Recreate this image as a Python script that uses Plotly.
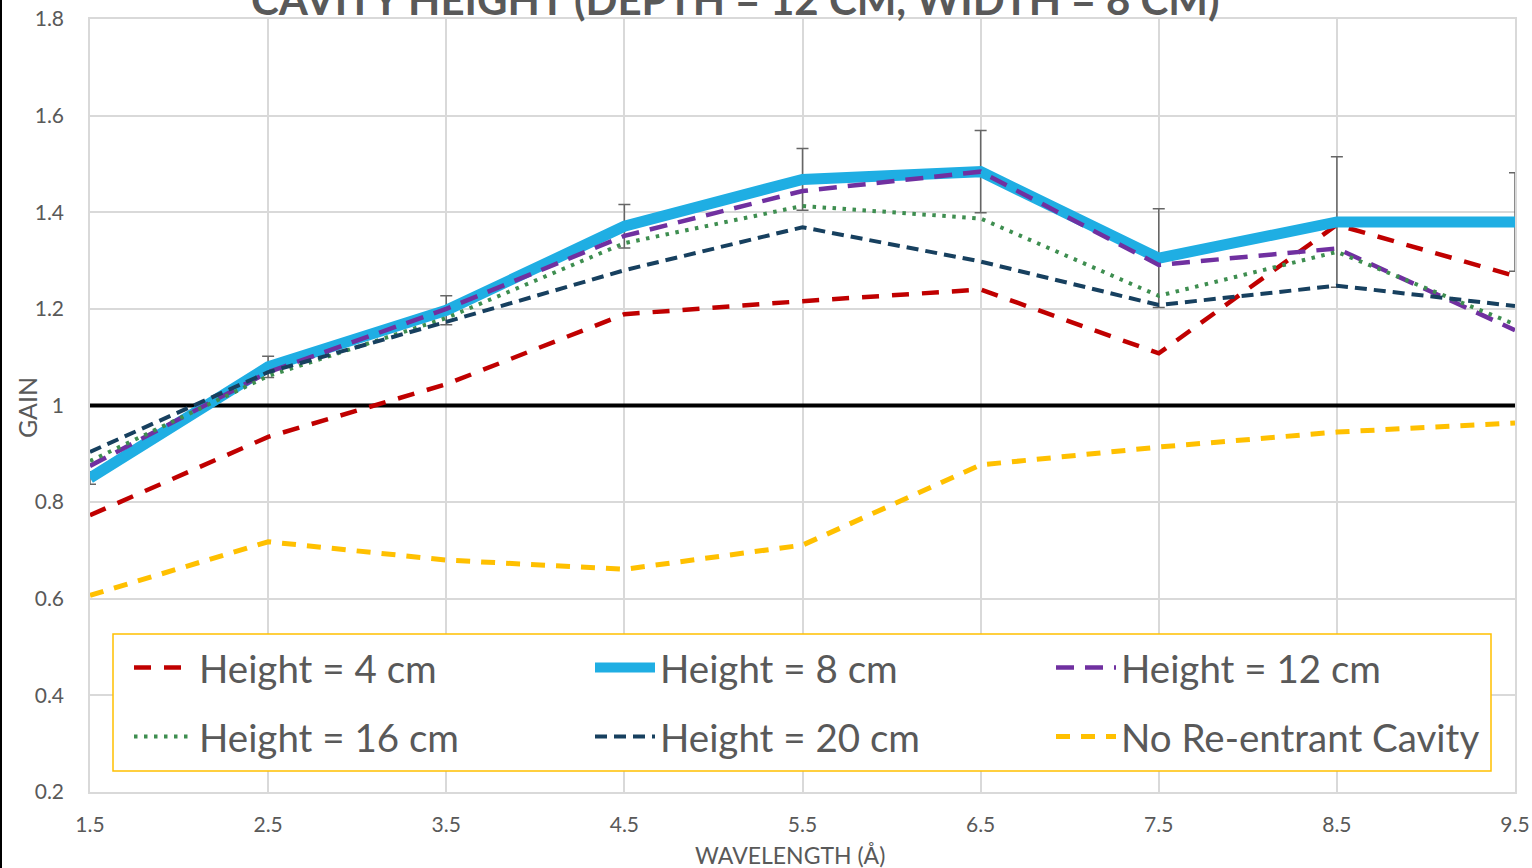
import plotly.graph_objects as go

# Wavelength (Å) sample points
wavelength = [1.5, 2.5, 3.5, 4.5, 5.5, 6.5, 7.5, 8.5, 9.5]

# Gain for each re-entrant cavity height
gain_h4 = [0.773, 0.935, 1.044, 1.189, 1.216, 1.240, 1.108, 1.374, 1.268]
gain_h8 = [0.850, 1.080, 1.197, 1.371, 1.468, 1.484, 1.305, 1.380, 1.380]
gain_h8_err = [0.013, 0.022, 0.030, 0.045, 0.064, 0.085, 0.102, 0.135, 0.102]
gain_h12 = [0.875, 1.069, 1.200, 1.351, 1.444, 1.484, 1.291, 1.325, 1.156]
gain_h16 = [0.885, 1.061, 1.181, 1.336, 1.413, 1.387, 1.227, 1.318, 1.168]
gain_h20 = [0.904, 1.069, 1.173, 1.280, 1.369, 1.298, 1.208, 1.248, 1.206]
gain_none = [0.607, 0.718, 0.680, 0.661, 0.711, 0.877, 0.914, 0.945, 0.964]

# Unity-gain reference
unity = [1.0] * len(wavelength)

y_ticks = [0.2, 0.4, 0.6, 0.8, 1.0, 1.2, 1.4, 1.6, 1.8]
y_ticktext = ["0.2", "0.4", "0.6", "0.8", "1", "1.2", "1.4", "1.6", "1.8"]
x_ticktext = ["1.5", "2.5", "3.5", "4.5", "5.5", "6.5", "7.5", "8.5", "9.5"]

W, H = 1532, 868
ML, MR, MT, MB = 90, 17, 19, 76
PW, PH = W - ML - MR, H - MT - MB


def px_x(p):
    return (p - ML) / PW


def px_y(p):
    return (H - MB - p) / PH


TXT = "#595959"
FONT = "Lato"

fig = go.Figure()

fig.add_trace(go.Scatter(
    x=wavelength, y=unity, mode="lines", showlegend=False, hoverinfo="skip",
    line=dict(color="#000000", width=4),
))

fig.add_trace(go.Scatter(
    x=wavelength, y=gain_h4, mode="lines", name="Height = 4 cm", legend="legend",
    line=dict(color="#C00000", width=4.5, dash="17px,13px"),
))
fig.add_trace(go.Scatter(
    x=wavelength, y=gain_h8, mode="lines", name="Height = 8 cm", legend="legend",
    line=dict(color="#1FAEE3", width=11),
    error_y=dict(type="data", array=gain_h8_err, visible=True,
                 color="#666666", thickness=1.5, width=6),
))
fig.add_trace(go.Scatter(
    x=wavelength, y=gain_h12, mode="lines", name="Height = 12 cm", legend="legend",
    line=dict(color="#7030A0", width=4.5, dash="18px,11px"),
))
fig.add_trace(go.Scatter(
    x=wavelength, y=gain_h16, mode="lines", name="Height = 16 cm", legend="legend2",
    line=dict(color="#3E8E50", width=4, dash="3.5px,6.5px"),
))
fig.add_trace(go.Scatter(
    x=wavelength, y=gain_h20, mode="lines", name="Height = 20 cm", legend="legend2",
    line=dict(color="#17405F", width=4, dash="12px,7px"),
))
fig.add_trace(go.Scatter(
    x=wavelength, y=gain_none, mode="lines", name="No Re-entrant Cavity", legend="legend2",
    line=dict(color="#FFC000", width=5, dash="14px,11px"),
))

legend_common = dict(
    orientation="h", xanchor="left", yanchor="middle",
    bgcolor="rgba(0,0,0,0)", borderwidth=0,
    font=dict(family=FONT, size=38.5, color=TXT),
    itemwidth=60, entrywidth=386, entrywidthmode="pixels",
    itemclick=False, itemdoubleclick=False,
)

fig.update_layout(
    width=W, height=H,
    margin=dict(l=ML, r=MR, t=MT, b=MB, pad=0, autoexpand=False),
    paper_bgcolor="white", plot_bgcolor="white",
    font=dict(family=FONT, color=TXT),
    legend=dict(x=px_x(129), y=px_y(668), **legend_common),
    legend2=dict(x=px_x(129), y=px_y(737), **legend_common),
    xaxis=dict(
        range=[1.5, 9.5], tickvals=wavelength, ticktext=x_ticktext,
        showgrid=True, gridcolor="#D9D9D9", gridwidth=1.5,
        showline=True, linecolor="#D9D9D9", linewidth=1.5, mirror=True,
        zeroline=False, ticks="", ticklabelstandoff=13, automargin=False,
        tickfont=dict(family=FONT, size=21, color=TXT),
    ),
    yaxis=dict(
        range=[0.2, 1.8], tickvals=y_ticks, ticktext=y_ticktext,
        showgrid=True, gridcolor="#D9D9D9", gridwidth=1.5,
        showline=True, linecolor="#D9D9D9", linewidth=1.5, mirror=True,
        zeroline=False, ticks="", ticklabelstandoff=20, automargin=False,
        tickfont=dict(family=FONT, size=21, color=TXT),
    ),
    shapes=[
        # legend frame
        dict(type="rect", xref="paper", yref="paper", layer="above",
             x0=px_x(113), x1=px_x(1491), y0=px_y(771), y1=px_y(634),
             fillcolor="white", line=dict(color="#FFC000", width=1.5)),
        # left edge rule
        dict(type="line", xref="paper", yref="paper",
             x0=px_x(1), x1=px_x(1), y0=px_y(H), y1=px_y(0),
             line=dict(color="#000000", width=2)),
    ],
    annotations=[
        dict(text="<b>CAVITY HEIGHT (DEPTH = 12 CM, WIDTH = 8 CM)</b>",
             xref="paper", yref="paper", x=px_x(735), y=px_y(-1),
             xanchor="center", yanchor="middle", showarrow=False,
             font=dict(family=FONT, size=42, color=TXT)),
        dict(text="WAVELENGTH (Å)",
             xref="paper", yref="paper", x=px_x(790), y=px_y(855),
             xanchor="center", yanchor="middle", showarrow=False,
             font=dict(family=FONT, size=23, color=TXT)),
        dict(text="GAIN", textangle=-90,
             xref="paper", yref="paper", x=px_x(27), y=px_y(408),
             xanchor="center", yanchor="middle", showarrow=False,
             font=dict(family=FONT, size=25, color=TXT)),
    ],
)

fig.write_html("out.html")
